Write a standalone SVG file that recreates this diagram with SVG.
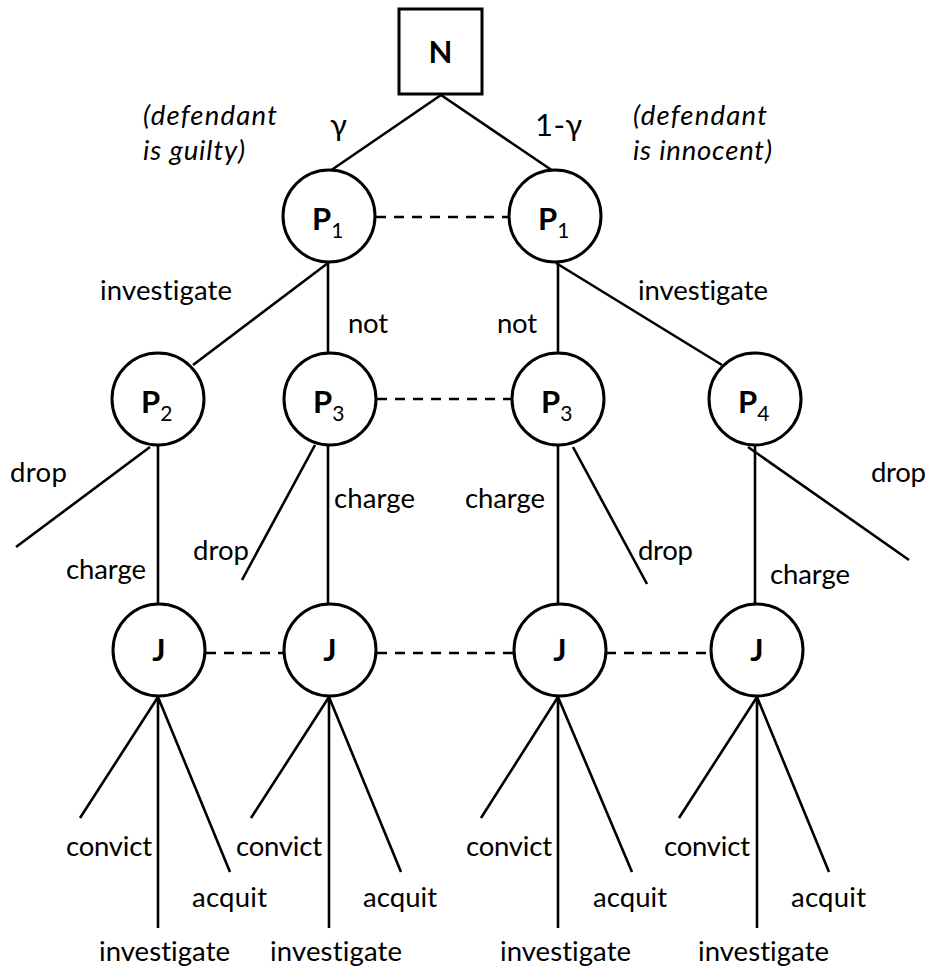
<svg xmlns="http://www.w3.org/2000/svg" width="929" height="969" viewBox="0 0 929 969">
<style>
.edge{stroke:#000;stroke-width:2.6;fill:none;stroke-linecap:butt}
.dash{stroke:#000;stroke-width:2.6;fill:none;stroke-dasharray:10 8}
.node{stroke:#000;stroke-width:3;fill:#fff}
text{font-variant-ligatures:none}
.lbl{font-family:Lato,"Liberation Sans",sans-serif;font-size:27.5px;fill:#000}
.g{font-family:Lato,"Liberation Sans",sans-serif;font-size:31px;fill:#000}
.it{font-family:Lato,"Liberation Sans",sans-serif;font-size:27.5px;font-style:italic;fill:#000}
.nt{font-family:Lato,"Liberation Sans",sans-serif;font-size:31px;font-weight:bold;fill:#000}
.sub{font-size:21px;font-weight:normal}
</style>
<rect width="929" height="969" fill="#fff"/>
<g id="connectors">
<line class="edge" x1="441" y1="95" x2="330" y2="171"/>
<line class="edge" x1="441" y1="95" x2="553" y2="171"/>
<line class="edge" x1="328" y1="263" x2="193" y2="365"/>
<line class="edge" x1="328" y1="263" x2="328" y2="352"/>
<line class="edge" x1="558" y1="263" x2="558" y2="352"/>
<line class="edge" x1="556" y1="263" x2="722" y2="365"/>
<line class="edge" x1="150" y1="447" x2="16" y2="547"/>
<line class="edge" x1="158" y1="446" x2="158" y2="604"/>
<line class="edge" x1="315" y1="445" x2="242" y2="580"/>
<line class="edge" x1="328" y1="446" x2="328" y2="604"/>
<line class="edge" x1="558" y1="446" x2="558" y2="604"/>
<line class="edge" x1="573" y1="447" x2="647" y2="584"/>
<line class="edge" x1="755" y1="446" x2="755" y2="604"/>
<line class="edge" x1="748" y1="447" x2="909" y2="560"/>
<line class="dash" x1="376" y1="217" x2="508" y2="217"/>
<line class="dash" x1="377" y1="399" x2="511" y2="399"/>
<line class="dash" x1="206" y1="653" x2="284" y2="653"/>
<line class="dash" x1="377" y1="653" x2="514" y2="653"/>
<line class="dash" x1="606" y1="653" x2="710" y2="653"/>
<path class="edge" d="M158 697L80 818M158 697V928M158 697L230 872"/>
<path class="edge" d="M329 697L251 818M329 697V928M329 697L401 872"/>
<path class="edge" d="M558 697L481 818M558 697V928M558 697L632 872"/>
<path class="edge" d="M757 697L679 818M757 697V928M757 697L829 872"/>
</g>
<g id="N"><rect class="node" x="399" y="9" width="83" height="85"/><text class="nt" x="440.5" y="63" text-anchor="middle">N</text></g>
<g id="P1a"><circle class="node" cx="329" cy="216" r="46"/><text class="nt" x="312" y="230">P<tspan class="sub" dy="8">1</tspan></text></g>
<g id="P1b"><circle class="node" cx="555" cy="216" r="46"/><text class="nt" x="538" y="230">P<tspan class="sub" dy="8">1</tspan></text></g>
<g id="P2"><circle class="node" cx="158" cy="399" r="46"/><text class="nt" x="141" y="413">P<tspan class="sub" dy="8">2</tspan></text></g>
<g id="P3a"><circle class="node" cx="330" cy="399" r="46"/><text class="nt" x="313" y="413">P<tspan class="sub" dy="8">3</tspan></text></g>
<g id="P3b"><circle class="node" cx="558" cy="399" r="46"/><text class="nt" x="541" y="413">P<tspan class="sub" dy="8">3</tspan></text></g>
<g id="P4"><circle class="node" cx="755" cy="399" r="46"/><text class="nt" x="738" y="413">P<tspan class="sub" dy="8">4</tspan></text></g>
<g id="J1"><circle class="node" cx="159" cy="650" r="46"/><text class="nt" x="159" y="661" text-anchor="middle">J</text></g>
<g id="J2"><circle class="node" cx="330" cy="650" r="46"/><text class="nt" x="330" y="661" text-anchor="middle">J</text></g>
<g id="J3"><circle class="node" cx="560" cy="650" r="46"/><text class="nt" x="560" y="661" text-anchor="middle">J</text></g>
<g id="J4"><circle class="node" cx="757" cy="650" r="46"/><text class="nt" x="757" y="661" text-anchor="middle">J</text></g>
<g id="labels">
<text class="g" x="330" y="136">γ</text>
<text class="g" x="535" y="136" textLength="47">1-γ</text>
<text class="it" x="143" y="125" textLength="134">(defendant</text>
<text class="it" x="143" y="160" textLength="102">is guilty)</text>
<text class="it" x="633" y="125" textLength="134">(defendant</text>
<text class="it" x="633" y="160" textLength="139">is innocent)</text>
<text class="lbl" x="100" y="300" textLength="132">investigate</text>
<text class="lbl" x="348" y="333" textLength="40">not</text>
<text class="lbl" x="497" y="333" textLength="40">not</text>
<text class="lbl" x="638" y="300" textLength="130">investigate</text>
<text class="lbl" x="10" y="482" textLength="57">drop</text>
<text class="lbl" x="66" y="579" textLength="80">charge</text>
<text class="lbl" x="193" y="560" textLength="56">drop</text>
<text class="lbl" x="334" y="508" textLength="81">charge</text>
<text class="lbl" x="465" y="508" textLength="80">charge</text>
<text class="lbl" x="638" y="560" textLength="55">drop</text>
<text class="lbl" x="871" y="482" textLength="55">drop</text>
<text class="lbl" x="770" y="584" textLength="80">charge</text>
<text class="lbl" x="66" y="856" textLength="86">convict</text>
<text class="lbl" x="236" y="856" textLength="86">convict</text>
<text class="lbl" x="466" y="856" textLength="86">convict</text>
<text class="lbl" x="664" y="856" textLength="86">convict</text>
<text class="lbl" x="192" y="907" textLength="75">acquit</text>
<text class="lbl" x="363" y="907" textLength="74">acquit</text>
<text class="lbl" x="593" y="907" textLength="74">acquit</text>
<text class="lbl" x="791" y="907" textLength="75">acquit</text>
<text class="lbl" x="99" y="961" textLength="131">investigate</text>
<text class="lbl" x="270" y="961" textLength="132">investigate</text>
<text class="lbl" x="500" y="961" textLength="131">investigate</text>
<text class="lbl" x="698" y="961" textLength="131">investigate</text>
</g>
</svg>
